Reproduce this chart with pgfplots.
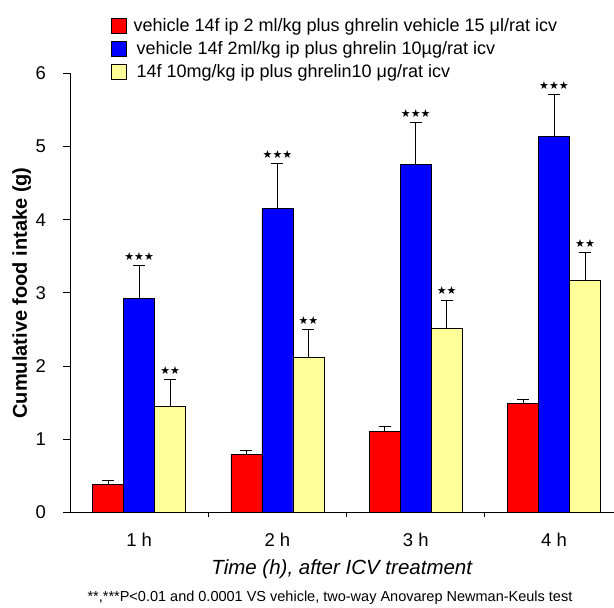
\documentclass[border=0pt]{standalone}
\usepackage{fontspec}
\setmainfont{Liberation Sans}
\newfontfamily\symfont{DejaVu Sans}
\usepackage{pgfplots}
\pgfplotsset{compat=1.18}

\definecolor{barred}{RGB}{255,0,0}
\definecolor{barblue}{RGB}{0,0,255}
\definecolor{baryel}{RGB}{255,255,153}

\pgfplotsset{
    errstyle/.style={
        error bars/y dir=plus,
        error bars/y explicit,
        error bars/error bar style={black, line width=0.9pt},
        error bars/error mark options={rotate=90, mark size=6pt, black, line width=0.9pt},
    },
}
\tikzset{
    stars/.style={anchor=south, inner sep=0pt, yshift=5pt, font=\symfont\fontsize{11}{11}\selectfont},
}

\begin{document}
\begin{tikzpicture}
\begin{axis}[
    scale only axis,
    width=543.5pt, height=439.2pt,
    ybar=0pt, bar width=31pt,
    xmin=-0.5, xmax=3.43,
    ymin=0, ymax=6,
    axis lines=left,
    axis line style={-, line width=0.9pt},
    tick align=outside,
    major tick length=7pt,
    minor tick length=5pt,
    every tick/.style={black, line width=0.9pt},
    xtick={0,1,2,3},
    xticklabels={1 h,2 h,3 h,4 h},
    major x tick style={draw=none},
    minor xtick={0.5,1.5,2.5},
    ytick={0,1,2,3,4,5,6},
    /pgf/number format/assume math mode=true,
    ticklabel style={font=\fontsize{18.5}{22}\selectfont},
    xticklabel style={yshift=-10pt},
    yticklabel style={anchor=east, inner sep=0pt, xshift=-17pt},
    xlabel={\itshape Time (h), after ICV treatment},
    xlabel style={font=\fontsize{20.5}{24}\selectfont, yshift=-6pt},
    ylabel={\bfseries Cumulative food intake (g)},
    ylabel style={font=\fontsize{20}{24}\selectfont,
        at={(axis description cs:-0.089,0.5)}, anchor=center, rotate=0},
    legend style={at={(axis description cs:0.0749,1.1305)}, anchor=north west,
        draw=none, fill=none, inner sep=0pt,
        font=\fontsize{18}{21}\selectfont, row sep=4.5pt},
    legend cell align=left,
    legend image code/.code={\draw[#1, draw=black, line width=0.7pt] (0pt,-7.5pt) rectangle (15pt,7.5pt);},
]
\addplot[fill=barred, draw=black, line width=0.7pt, errstyle] coordinates {
    (0,0.38) +- (0,0.055)
    (1,0.79) +- (0,0.06)
    (2,1.11) +- (0,0.07)
    (3,1.49) +- (0,0.05)
};
\addplot[fill=barblue, draw=black, line width=0.7pt, errstyle] coordinates {
    (0,2.92) +- (0,0.455)
    (1,4.15) +- (0,0.62)
    (2,4.76) +- (0,0.57)
    (3,5.14) +- (0,0.57)
};
\addplot[fill=baryel, draw=black, line width=0.7pt, errstyle] coordinates {
    (0,1.45) +- (0,0.37)
    (1,2.125) +- (0,0.375)
    (2,2.52) +- (0,0.38)
    (3,3.17) +- (0,0.38)
};
\legend{{\hspace{5pt}vehicle 14f ip 2 ml/kg plus ghrelin vehicle 15 μl/rat icv},
        {\hspace{8pt}vehicle 14f 2ml/kg ip plus ghrelin 10µg/rat icv},
        {\hspace{8pt}14f 10mg/kg ip plus ghrelin10 μg/rat icv}}
% significance stars above error bars
\node[stars] at (axis cs:0,3.375) {★★★};
\node[stars] at (axis cs:1,4.77) {★★★};
\node[stars] at (axis cs:2,5.33) {★★★};
\node[stars] at (axis cs:3,5.71) {★★★};
\node[stars, xshift=31pt] at (axis cs:0,1.82) {★★};
\node[stars, xshift=31pt] at (axis cs:1,2.50) {★★};
\node[stars, xshift=31pt] at (axis cs:2,2.90) {★★};
\node[stars, xshift=31pt] at (axis cs:3,3.55) {★★};
\end{axis}
\node[font=\fontsize{14.5}{17}\selectfont] at ([xshift=260pt, yshift=-85pt]current axis.south west) {**,***P<0.01 and 0.0001 VS vehicle, two-way Anovarep Newman-Keuls test};
\pgfresetboundingbox
\path[use as bounding box] ([xshift=-70pt, yshift=-95.5pt]current axis.south west) rectangle ([xshift=544pt, yshift=512.5pt]current axis.south west);
\end{tikzpicture}
\end{document}
